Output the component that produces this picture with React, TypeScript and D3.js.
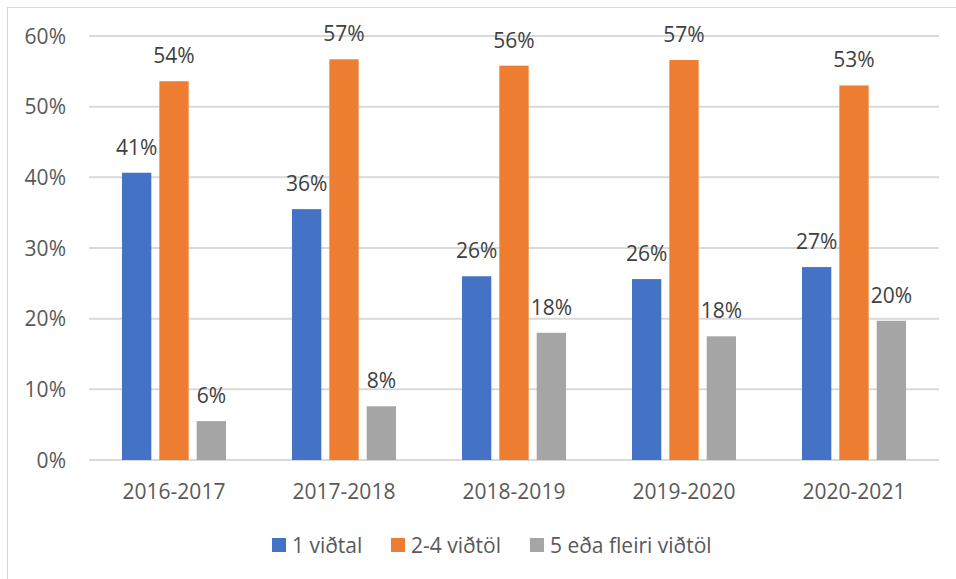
import React from "react";
import * as d3 from "d3";

const categories = ["2016-2017", "2017-2018", "2018-2019", "2019-2020", "2020-2021"];
const seriesNames = ["1 viðtal", "2-4 viðtöl", "5 eða fleiri viðtöl"];
const seriesColors = ["#4472C4", "#ED7D31", "#A5A5A5"];
const oneInterview = [40.65, 35.5, 26.0, 25.6, 27.3];
const twoToFour = [53.6, 56.7, 55.8, 56.6, 53.0];
const fivePlus = [5.5, 7.6, 18.0, 17.5, 19.7];
const yTicks = [0, 10, 20, 30, 40, 50, 60];

const W = 956;
const H = 579;
const left = 89;
const right = 939;
const top = 36;
const bottom = 460;
const FONT = "'Open Sans', sans-serif";
const TEXT = "#595959";
const FS = 21;

export default function App() {
  const values = [oneInterview, twoToFour, fivePlus];
  const x = d3.scaleBand<string>().domain(categories).range([left, right]).padding(0);
  const sub = d3
    .scaleBand<string>()
    .domain(seriesNames)
    .range([-52, 52])
    .paddingInner(0.215)
    .paddingOuter(0);
  const y = d3.scaleLinear().domain([0, 60]).range([bottom, top]);

  const legendX = [272, 391, 530];

  return (
    <svg
      width={W}
      height={H}
      style={{ position: "absolute", left: 0, top: 0, background: "#fff" }}
      fontFamily={FONT}
    >
      <rect x={7.5} y={7.5} width={W} height={H} fill="#fff" stroke="#d9d9d9" strokeWidth={1} />
      {yTicks.map((t) => (
        <g key={t}>
          <line x1={left} x2={right} y1={y(t)} y2={y(t)} stroke="#d9d9d9" strokeWidth={2} />
          <text x={66} y={y(t)} dy="0.36em" textAnchor="end" fontSize={FS} fill={TEXT}>
            {t}%
          </text>
        </g>
      ))}
      {categories.map((c, i) => {
        const cx = (x(c) as number) + x.bandwidth() / 2;
        return (
          <g key={c}>
            {seriesNames.map((s, j) => {
              const v = values[j][i];
              const bx = cx + (sub(s) as number);
              return (
                <g key={s}>
                  <rect
                    x={bx}
                    y={y(v)}
                    width={sub.bandwidth()}
                    height={y(0) - y(v)}
                    fill={seriesColors[j]}
                  />
                  <text
                    x={bx + sub.bandwidth() / 2}
                    y={y(v) - 18}
                    textAnchor="middle"
                    fontSize={FS}
                    fill="#404040"
                  >
                    {Math.round(v)}%
                  </text>
                </g>
              );
            })}
            <text x={cx} y={491} dy="0.36em" textAnchor="middle" fontSize={FS} fill={TEXT}>
              {c}
            </text>
          </g>
        );
      })}
      {seriesNames.map((s, j) => (
        <g key={s}>
          <rect x={legendX[j]} y={538} width={14} height={14} fill={seriesColors[j]} />
          <text x={legendX[j] + 20} y={545} dy="0.36em" fontSize={FS} fill={TEXT}>
            {s}
          </text>
        </g>
      ))}
    </svg>
  );
}
